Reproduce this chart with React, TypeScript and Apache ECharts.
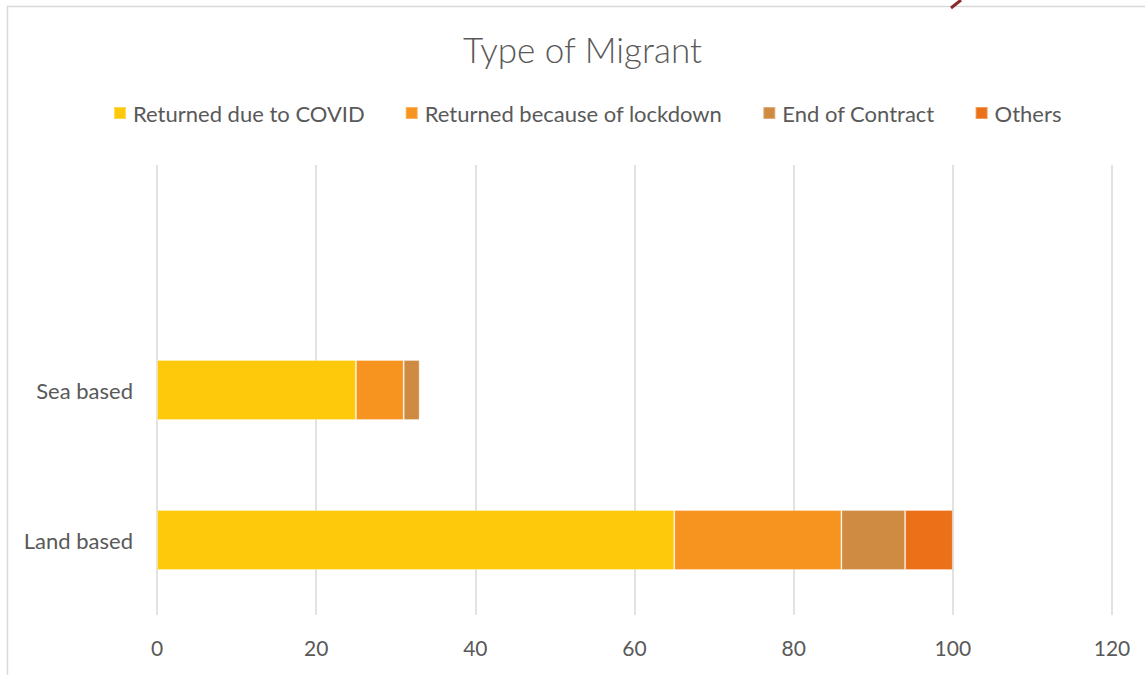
import React, { useEffect, useRef } from "react";
import * as echarts from "echarts";

const categories = ["Land based", "Sea based", ""];
const seriesNames = ["Returned due to COVID", "Returned because of lockdown", "End of Contract", "Others"];
const covid = [65, 25, null];
const lockdown = [21, 6, null];
const endContract = [8, 2, null];
const others = [6, null, null];
const colors = ["#FFC90B", "#F7941F", "#CF8B42", "#EB7018"];
const xTicksMax = 120;
const xInterval = 20;

const FONT = "Lato, 'Open Sans', sans-serif";

export default function App() {
  const ref = useRef<HTMLDivElement>(null);
  useEffect(() => {
    if (!ref.current) return;
    const chart = echarts.init(ref.current, null, { renderer: "svg" });
    const values = [covid, lockdown, endContract, others];
    chart.setOption({
      animation: false,
      backgroundColor: "#ffffff",
      color: colors,
      title: {
        text: "Type of Migrant",
        left: 458,
        top: 26,
        textStyle: { fontFamily: FONT, fontSize: 35, fontWeight: 300, color: "#595959" },
      },
      legend: {
        top: 97,
        left: 108,
        itemWidth: 12,
        itemHeight: 12,
        itemGap: 40,
        icon: "rect",
        textStyle: { fontFamily: FONT, fontSize: 22, color: "#595959", padding: [0, 0, 0, 2] },
        data: seriesNames,
      },
      graphic: [
        {
          type: "rect",
          shape: { x: 7.5, y: 6.5, width: 1200, height: 700 },
          style: { fill: "none", stroke: "#d9d9d9", lineWidth: 1.5 },
          silent: true,
        },
        {
          type: "line",
          shape: { x1: 951, y1: 8, x2: 961, y2: 0 },
          style: { stroke: "#8B2A2A", lineWidth: 3 },
          silent: true,
        },
      ],
      grid: { left: 157, right: 33, top: 165, bottom: 60, containLabel: false },
      xAxis: {
        type: "value",
        min: 0,
        max: xTicksMax,
        interval: xInterval,
        axisLine: { show: false },
        axisTick: { show: false },
        splitLine: { show: true, lineStyle: { color: "#d9d9d9", width: 1.5 } },
        axisLabel: { fontFamily: FONT, fontSize: 21, color: "#595959", margin: 22 },
      },
      yAxis: {
        type: "category",
        data: categories,
        axisLine: { show: false },
        axisTick: { show: false },
        axisLabel: { fontFamily: FONT, fontSize: 22, color: "#595959", margin: 24 },
      },
      series: seriesNames.map((name, i) => ({
        name,
        type: "bar",
        stack: "total",
        barWidth: "40%",
        data: values[i],
        itemStyle: { color: colors[i], borderColor: "rgba(255,255,255,0.3)", borderWidth: 1 },
      })),
    });
    return () => chart.dispose();
  }, []);
  return (
    <div
      ref={ref}
      style={{ position: "fixed", left: 0, top: 0, width: 1145, height: 675, background: "#fff" }}
    />
  );
}
